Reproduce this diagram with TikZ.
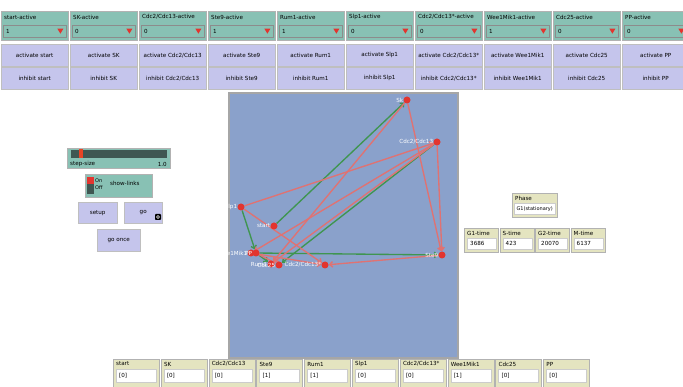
\documentclass[tikz,border=0pt]{standalone}
\usepackage{fontspec}
\setmainfont{DejaVu Sans}
\usepackage{tikz}
\usetikzlibrary{arrows.meta, backgrounds, calc}
\definecolor{chooser}{HTML}{88C1B4}
\definecolor{button}{HTML}{C5C5EC}
\definecolor{monitor}{HTML}{E4E4C0}
\definecolor{world}{HTML}{8AA1CB}
\definecolor{gene}{HTML}{E2352F}
\definecolor{act}{HTML}{3F9550}
\definecolor{inh}{HTML}{E07272}
\definecolor{track}{HTML}{3F5752}

\tikzset{
  wtext/.style={font=\fontsize{5.6}{6.5}\selectfont, inner sep=0pt},
  chooserbox/.style={draw=black!30, fill=chooser, minimum width=67pt, minimum height=29pt, inner sep=0pt},
  choicebox/.style={draw=black!45, fill=chooser, minimum width=63pt, minimum height=12pt, inner sep=0pt},
  buttonbox/.style={draw=black!25, fill=button, minimum width=67pt, minimum height=22pt, inner sep=0pt, font=\fontsize{5.6}{6.5}\selectfont},
  monitorbox/.style={draw=black!30, fill=monitor, inner sep=0pt},
  valuebox/.style={draw=black!20, fill=white, inner sep=0pt},
  genedot/.style={circle, fill=gene, inner sep=0pt, minimum size=7pt,
    label distance=-6.5pt},
  genelabel/.style={text=white, font=\fontsize{5.6}{6.5}\selectfont, inner sep=0pt},
  activate/.style={draw=act, line width=1.35pt, -{Straight Barb[length=3pt, width=5.5pt]}},
  inhibit/.style={draw=inh, line width=1.35pt, -{Straight Barb[length=3pt, width=5.5pt]}}
}

\begin{document}
\begin{tikzpicture}[x=1pt, y=-1pt]
\useasboundingbox (0,0) rectangle (683,387);

% choosers and buttons along the top
\foreach \g/\v [count=\i from 0] in {start/1, SK/0, {Cdc2/Cdc13}/0, Ste9/1, Rum1/1, Slp1/0, {Cdc2/Cdc13*}/0, Wee1Mik1/1, Cdc25/0, PP/0} {
  \pgfmathsetmacro{\x}{1+69*\i}
  \node[chooserbox, anchor=north west] (ch\i) at (\x,11) {};
  \node[wtext, anchor=west] (chl\i) at (\x+3,17) {\g-active};
  \node[choicebox, anchor=north west] (chv\i) at (\x+2,25) {};
  \node[wtext, anchor=west] (cht\i) at ([xshift=3pt]chv\i.west) {\v};
  \fill[gene] ([xshift=-9pt, yshift=2.5pt]chv\i.east) -- ++(6,0) -- ++(-3,5) -- cycle;
  \node[buttonbox, anchor=north west] (act\i) at (\x,44) {activate \g};
  \node[buttonbox, anchor=north west] (inh\i) at (\x,67) {inhibit \g};
}

% monitors along the bottom
\foreach \g/\v [count=\i from 0] in {start/0, SK/0, {Cdc2/Cdc13}/0, Ste9/1, Rum1/1, Slp1/0, {Cdc2/Cdc13*}/0, Wee1Mik1/1, Cdc25/0, PP/0} {
  \pgfmathsetmacro{\x}{113+47.8*\i}
  \node[monitorbox, anchor=north west, minimum width=46pt, minimum height=32pt] (mon\i) at (\x,359) {};
  \node[wtext, anchor=west] (monl\i) at (\x+3,364) {\g};
  \node[valuebox, anchor=north west, minimum width=40pt, minimum height=13pt] (monv\i) at (\x+3,369) {};
  \node[wtext, anchor=west] (mont\i) at ([xshift=3pt]monv\i.west) {[\v]};
}

% slider, switch and buttons on the left
\node[chooserbox, anchor=north west, minimum width=103pt, minimum height=20pt] (slider) at (67,148) {};
\fill[track] (71,150) rectangle (167,158);
\fill[gene!80!orange] (79,149) rectangle (83,158);
\node[wtext, anchor=west] (stepsize) at (70,164) {step-size};
\node[wtext, anchor=east] (stepval) at (167,164) {1.0};

\node[chooserbox, anchor=north west, minimum width=67pt, minimum height=23pt] (switch) at (85,174) {};
\fill[track] (87,177) rectangle (94,194);
\fill[gene] (87,177) rectangle (94,184);
\node[wtext, anchor=west, font=\fontsize{5}{5}\selectfont] (on) at (95,181) {On};
\node[wtext, anchor=west, font=\fontsize{5}{5}\selectfont] (off) at (95,188) {Off};
\node[wtext, anchor=west] (showlinks) at (110,183) {show-links};

\node[buttonbox, anchor=north west, minimum width=39pt, minimum height=21pt] (setup) at (78,202) {setup};
\node[buttonbox, anchor=north west, minimum width=38pt, minimum height=21pt] (go) at (124,202) {go};
\fill[black, rounded corners=0.8pt] (155,214) rectangle (161,220);
\draw[white, line width=0.5pt] (158,217) circle (1.6);
\node[buttonbox, anchor=north west, minimum width=43pt, minimum height=22pt] (goonce) at (97,229) {go once};

% phase and time monitors on the right
\node[monitorbox, anchor=north west, minimum width=45pt, minimum height=24pt] (phase) at (512,193) {};
\node[wtext, anchor=west] (phasel) at (515,198) {Phase};
\node[valuebox, anchor=north west, minimum width=41pt, minimum height=11pt] (phasev) at (514,203) {};
\node[wtext, font=\fontsize{5}{6}\selectfont] (phaset) at (phasev.center) {G1(stationary)};
\foreach \t/\v [count=\i from 0] in {G1-time/3686, S-time/423, G2-time/20070, M-time/6137} {
  \pgfmathsetmacro{\x}{464+35.5*\i}
  \node[monitorbox, anchor=north west, minimum width=34pt, minimum height=24pt] (tm\i) at (\x,228) {};
  \node[wtext, anchor=west] (tml\i) at (\x+3,233) {\t};
  \node[valuebox, anchor=north west, minimum width=29pt, minimum height=11pt] (tmv\i) at (\x+3,238) {};
  \node[wtext, anchor=west] (tmt\i) at ([xshift=3pt]tmv\i.west) {\v};
}

% the world
\begin{scope}[on background layer]
\fill[white] (0,0) rectangle (683,387);
\draw[fill=world, draw=black!35, line width=1.5pt] (229,93) rectangle (458,358);
\end{scope}

\node[genedot, label={[genelabel]left:Sk}] (sk) at (407,100) {};
\node[genedot, label={[genelabel]left:Cdc2/Cdc13}] (cdc) at (437,142) {};
\node[genedot, label={[genelabel]left:Slp1}] (slp) at (241,207) {};
\node[genedot, label={[genelabel]left:start}] (start) at (274,226) {};
\node[genedot, label={[genelabel]left:Wee1Mik1}] (wee) at (251,253) {};
\node[genedot, label={[genelabel]left:PP}] (pp) at (256,253) {};
\node[genedot, label={[genelabel]left:Rum1}] (rum) at (271,264) {};
\node[genedot, label={[genelabel]left:Cdc25}] (cdcf) at (279,265) {};
\node[genedot, label={[genelabel]left:Cdc2/Cdc13*}] (cdcs) at (325,265) {};
\node[genedot, label={[genelabel]left:Ste9}] (ste) at (442,255) {};

% links under the genes
\begin{scope}[on background layer]
\draw[activate] (start) -- (sk);
\draw[activate] (slp) -- (pp);
\draw[activate] (pp) -- (ste);
\draw[activate] (cdc) -- (cdcf);
\draw[activate] (pp) -- (rum);
\draw[inhibit] (sk) -- (ste);
\draw[inhibit] (sk) -- (rum);
\draw[inhibit] (cdc) -- (ste);
\draw[inhibit] (cdc) -- (rum);
\draw[inhibit] (cdc) -- (wee);
\draw[inhibit] (slp) -- (cdc);
\draw[inhibit] (slp) -- (cdcs);
\draw[inhibit] (ste) -- (cdcs);
\draw[inhibit] (wee) -- (cdcs);
\draw[inhibit] (pp) -- (cdcf);
\end{scope}
\end{tikzpicture}
\end{document}
